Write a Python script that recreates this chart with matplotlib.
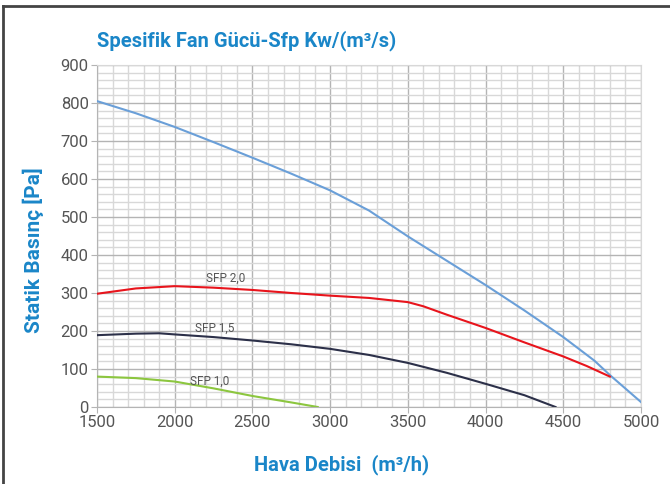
import matplotlib
matplotlib.use("Agg")
import matplotlib.pyplot as plt
from matplotlib.lines import Line2D
from matplotlib.ticker import MultipleLocator

# fan curve (blue)
fan_x = [1500, 1750, 2000, 2250, 2500, 2750, 3000, 3250, 3500, 3750, 4000, 4250, 4500, 4700, 4800, 5000]
fan_y = [805, 773, 737, 697, 656, 614, 570, 517, 449, 385, 321, 254, 184, 122, 84, 13]

# SFP 2,0 (red)
sfp20_x = [1500, 1750, 2000, 2250, 2500, 2750, 3000, 3250, 3500, 3600, 3750, 4000, 4250, 4500, 4650, 4800]
sfp20_y = [298, 312, 318, 314, 308, 300, 293, 287, 276, 265, 243, 208, 170, 133, 108, 80]

# SFP 1,5 (navy)
sfp15_x = [1500, 1750, 1900, 2000, 2250, 2500, 2750, 3000, 3250, 3500, 3750, 4000, 4250, 4450]
sfp15_y = [189, 193, 194, 191, 184, 175, 165, 153, 137, 116, 90, 61, 31, 0]

# SFP 1,0 (green)
sfp10_x = [1500, 1750, 2000, 2250, 2500, 2750, 2920]
sfp10_y = [80, 76, 67, 49, 29, 12, 0]

labels = ["SFP 2,0", "SFP 1,5", "SFP 1,0"]
label_pos = [(2200, 339), (2130, 208), (2098, 68)]

x_ticks = [1500, 2000, 2500, 3000, 3500, 4000, 4500, 5000]
y_ticks = [0, 100, 200, 300, 400, 500, 600, 700, 800, 900]

blue_txt = "#1a86c8"
plt.rcParams["font.family"] = ["Roboto", "DejaVu Sans"]

fig = plt.figure(figsize=(6.7, 4.84), dpi=100)
ax = fig.add_axes([0.1448, 0.1591, 0.8119, 0.7066])

ax.plot(fan_x, fan_y, color="#6a9fd8", lw=1.5, zorder=3)
ax.plot(sfp20_x, sfp20_y, color="#e8141c", lw=1.5, zorder=3)
ax.plot(sfp15_x, sfp15_y, color="#2c3049", lw=1.5, zorder=3)
ax.plot(sfp10_x, sfp10_y, color="#8cc63f", lw=1.5, zorder=3)

for txt, (lx, ly) in zip(labels, label_pos):
    ax.text(lx, ly, txt, fontsize=8.5, color="#555555", ha="left", va="center", zorder=4)

ax.set_xlim(1500, 5000)
ax.set_ylim(0, 900)
ax.set_xticks(x_ticks)
ax.set_yticks(y_ticks)
ax.xaxis.set_minor_locator(MultipleLocator(100))
ax.yaxis.set_minor_locator(MultipleLocator(20))
ax.grid(which="major", color="#b4b4b4", lw=1.0, zorder=0)
ax.grid(which="minor", color="#d8d8d8", lw=1.0, zorder=0)
ax.set_axisbelow(True)

for s in ["top", "right"]:
    ax.spines[s].set_color("#d8d8d8")
for s in ["left", "bottom"]:
    ax.spines[s].set_color("#b4b4b4")
ax.tick_params(which="major", direction="out", length=4, color="#b4b4b4",
               labelsize=12, labelcolor="#555555", pad=2)
ax.tick_params(which="minor", length=0)

ax.set_xlabel("Hava Debisi  (m³/h)", fontsize=14.5, fontweight="bold", color=blue_txt)
ax.xaxis.set_label_coords(0.449, -0.137)
ax.set_ylabel("Statik Basınç [Pa]", fontsize=15, fontweight="bold", color=blue_txt)
ax.yaxis.set_label_coords(-0.097, 0.459)
fig.text(0.1448, 0.917, "Spesifik Fan Gücü-Sfp Kw/(m³/s)", fontsize=14.5, fontweight="bold",
         color=blue_txt, ha="left", va="center")

# frame lines on top and left like the reference
fig.add_artist(Line2D([0.005, 0.005], [0.0, 0.988], color="#444444", lw=2))
fig.add_artist(Line2D([0.005, 1.0], [0.988, 0.988], color="#444444", lw=2))

fig.savefig("out.png", dpi=100)
